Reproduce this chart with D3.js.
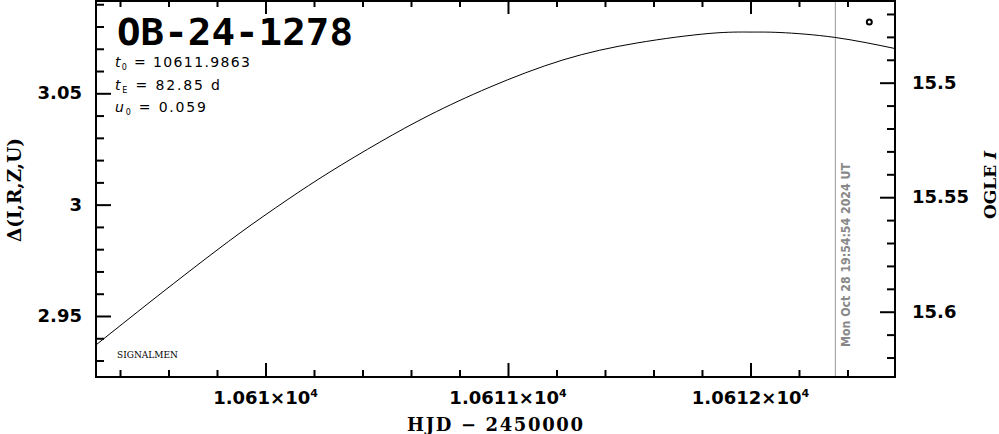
<!DOCTYPE html>
<html><head><meta charset="utf-8">
<script src="https://cdn.jsdelivr.net/npm/d3@7"></script>
<style>body{margin:0;background:#fff}svg{display:block}</style>
</head><body><svg id="c" width="999" height="434"></svg>
<script>
// ---- data ----
const hjd   = [10609.301, 10609.524, 10609.709, 10609.895, 10610.089, 10610.266, 10610.472, 10610.678,
               10610.926, 10611.227, 10611.532, 10611.833, 10611.998, 10612.122, 10612.348, 10612.596];
const delta = [2.9370, 2.9563, 2.9720, 2.9873, 3.0021, 3.0147, 3.0281, 3.0403,
               3.0528, 3.0650, 3.0726, 3.0769, 3.0775, 3.0773, 3.0751, 3.0701];
const xMajor = [10610, 10611, 10612];
const xMajorLabels = ["1.061", "1.0611", "1.0612"];
const leftMajor = [2.95, 3.00, 3.05];
const leftLabels = ["2.95", "3", "3.05"];
const rightMajor = [15.5, 15.55, 15.6];
const rightLabels = ["15.5", "15.55", "15.6"];
const eventName = "OB-24-1278";
const params = [["t", "0", " = 10611.9863"], ["t", "E", " = 82.85 d"], ["u", "0", " = 0.059"]];
const paramWidths = [135, 105, 91];
const dateLineHjd = 10612.35;
const dateText = "Mon Oct 28 19:54:54 2024 UT";
const markerPos = [10612.49, 3.082];

// ---- layout ----
const L = 96, R = 895, T = 0, B = 377;
const svg = d3.select("#c");
const x = d3.scaleLinear().domain([10609.301, 10612.596]).range([L, R]);
const yL = d3.scaleLinear().domain([2.9226, 3.0919]).range([B, T]);
const yR = d3.scaleLinear().domain([15.6285, 15.4639]).range([B, T]);

const xMinor = d3.range(10609.4, 10612.55, 0.2).filter(v => !xMajor.some(m => Math.abs(m - v) < 1e-6));
const lMinor = d3.range(2.93, 3.091, 0.01).filter(v => !leftMajor.some(m => Math.abs(m - v) < 1e-6));
const rMinor = d3.range(15.47, 15.625, 0.01).filter(v => !rightMajor.some(m => Math.abs(m - v) < 1e-6));

function ticks(axisFn, scale, values, size, tr) {
  const g = svg.append("g").attr("transform", tr)
    .call(axisFn(scale).tickValues(values).tickSize(size).tickFormat(""));
  g.select(".domain").remove();
  g.selectAll("line").attr("stroke", "#000").attr("stroke-width", 2);
}
ticks(d3.axisBottom, x, xMajor, -14, `translate(0,${B})`);
ticks(d3.axisBottom, x, xMinor, -7, `translate(0,${B})`);
ticks(d3.axisTop, x, xMajor, -14, `translate(0,${T})`);
ticks(d3.axisTop, x, xMinor, -7, `translate(0,${T})`);
ticks(d3.axisLeft, yL, leftMajor, -15, `translate(${L},0)`);
ticks(d3.axisLeft, yL, lMinor, -8, `translate(${L},0)`);
ticks(d3.axisRight, yR, rightMajor, -15, `translate(${R},0)`);
ticks(d3.axisRight, yR, rMinor, -8, `translate(${R},0)`);

// date line
svg.append("line").attr("x1", x(dateLineHjd)).attr("x2", x(dateLineHjd))
  .attr("y1", T).attr("y2", B).attr("stroke", "#999").attr("stroke-width", 1);

// curve
const line = d3.line().x((d, i) => x(hjd[i])).y(d => yL(d)).curve(d3.curveNatural);
svg.append("path").datum(delta).attr("d", line).attr("fill", "none")
  .attr("stroke", "#000").attr("stroke-width", 1);

// box
svg.append("rect").attr("x", L).attr("y", T + 1).attr("width", R - L).attr("height", B - T - 1)
  .attr("fill", "none").attr("stroke", "#000").attr("stroke-width", 2);

// marker
svg.append("circle").attr("cx", x(markerPos[0])).attr("cy", yL(markerPos[1])).attr("r", 2.5)
  .attr("fill", "none").attr("stroke", "#000").attr("stroke-width", 2);

const tickFont = "DejaVu Sans";
// x tick labels
xMajor.forEach((v, i) => {
  const t = svg.append("text").attr("x", x(v)).attr("y", 404).attr("text-anchor", "middle")
    .attr("font-family", tickFont).attr("font-weight", "bold").attr("font-size", 18);
  t.append("tspan").text(xMajorLabels[i] + "×10");
  t.append("tspan").attr("dy", -7).attr("font-size", 11).text("4");
});
svg.append("text").attr("x", 495).attr("y", 431).attr("text-anchor", "middle")
  .attr("font-family", "DejaVu Serif").attr("font-weight", "bold").attr("font-size", 18)
  .attr("textLength", 176).attr("lengthAdjust", "spacing").text("HJD − 2450000");

leftMajor.forEach((v, i) => {
  svg.append("text").attr("x", 82).attr("y", yL(v) + 6).attr("text-anchor", "end")
    .attr("font-family", tickFont).attr("font-weight", "bold").attr("font-size", 18).text(leftLabels[i]);
});
rightMajor.forEach((v, i) => {
  svg.append("text").attr("x", 912).attr("y", yR(v) + 6).attr("text-anchor", "start")
    .attr("font-family", tickFont).attr("font-weight", "bold").attr("font-size", 18).text(rightLabels[i]);
});

svg.append("text").attr("transform", "translate(21,190) rotate(-90)").attr("text-anchor", "middle")
  .attr("font-family", "DejaVu Serif").attr("font-weight", "bold").attr("font-size", 18)
  .attr("textLength", 104).attr("lengthAdjust", "spacingAndGlyphs").text("Δ(I,R,Z,U)");
const ol = svg.append("text").attr("transform", "translate(996,185) rotate(-90)").attr("text-anchor", "middle")
  .attr("font-family", "DejaVu Serif").attr("font-weight", "bold").attr("font-size", 17);
ol.append("tspan").text("OGLE ");
ol.append("tspan").attr("font-style", "italic").text("I");

// date text
svg.append("text").attr("transform", `translate(${x(dateLineHjd) + 15},255) rotate(-90)`)
  .attr("text-anchor", "middle").attr("font-family", "DejaVu Sans").attr("font-weight", "bold")
  .attr("font-size", 12).attr("fill", "#888").attr("textLength", 184).attr("lengthAdjust", "spacingAndGlyphs")
  .text(dateText);

// title
svg.append("text").attr("x", 117).attr("y", 45).attr("font-family", "DejaVu Sans Mono")
  .attr("font-weight", "bold").attr("font-size", 38).attr("textLength", 236)
  .attr("lengthAdjust", "spacingAndGlyphs").text(eventName);

// params
params.forEach((p, i) => {
  const t = svg.append("text").attr("x", 115).attr("y", 67 + i * 22.5)
    .attr("font-family", "DejaVu Sans").attr("font-size", 14)
    .attr("textLength", paramWidths[i]).attr("lengthAdjust", "spacing");
  t.append("tspan").attr("font-style", "italic").text(p[0]);
  t.append("tspan").attr("dy", 3).attr("font-size", 8).text(p[1]);
  t.append("tspan").attr("dy", -3).text(p[2]);
});

svg.append("text").attr("x", 117).attr("y", 358).attr("font-family", "DejaVu Serif")
  .attr("font-size", 9).text("SIGNALMEN");
</script></body></html>
